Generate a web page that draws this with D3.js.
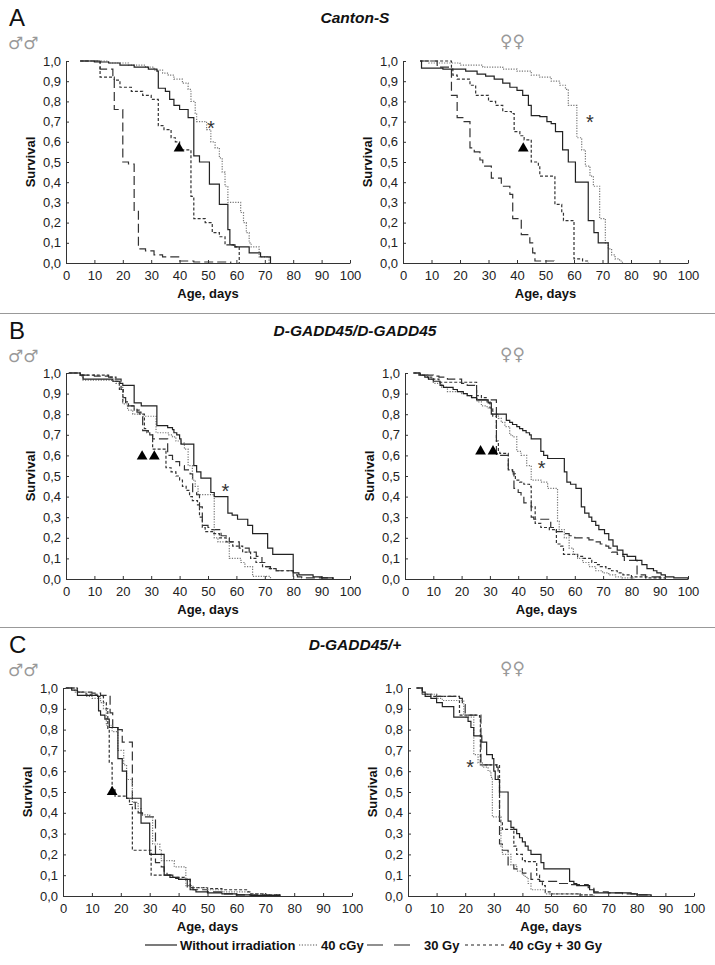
<!DOCTYPE html>
<html><head><meta charset="utf-8">
<script src="https://cdn.jsdelivr.net/npm/d3@7"></script>
<style>
body{margin:0;background:#fff;}
svg{display:block;font-family:"Liberation Sans",Arial,sans-serif;}
</style></head><body>
<svg id="c" width="715" height="965"></svg>
<script>
// ---------- DATA ----------
const seriesNames = ["Without irradiation", "40 cGy", "30 Gy", "40 cGy + 30 Gy"];
const xTicks = [0, 10, 20, 30, 40, 50, 60, 70, 80, 90, 100];
const yTicks = [0, 0.1, 0.2, 0.3, 0.4, 0.5, 0.6, 0.7, 0.8, 0.9, 1.0];
const groupTitles = ["Canton-S", "D-GADD45/D-GADD45", "D-GADD45/+"];
const groupLetters = ["A", "B", "C"];

// Each series: [age (days), survival fraction after that age]
const A_m_none = [[5,1],[10,0.995],[15,0.99],[19,0.98],[24,0.97],[29,0.96],[32,0.95],[32.5,0.865],[35,0.85],[36.5,0.81],[38,0.78],[40,0.76],[43,0.72],[45,0.53],[47,0.5],[50.5,0.39],[54,0.29],[57,0.165],[57.7,0.09],[59.5,0.08],[64.5,0.05],[68.5,0.03],[72,0]];
const A_m_40c = [[5,1],[15,0.99],[22,0.98],[28,0.97],[31,0.955],[34,0.94],[36,0.93],[38,0.91],[41,0.89],[43,0.86],[44,0.8],[45.5,0.74],[46,0.7],[49.5,0.66],[51,0.6],[52.5,0.57],[54,0.52],[55,0.45],[56,0.38],[57,0.3],[61.5,0.25],[62.5,0.2],[63.5,0.15],[64.5,0.1],[65.2,0.08],[68,0.03],[71.5,0]];
const A_m_30g = [[5,1],[12,0.96],[16.5,0.92],[17,0.76],[20,0.5],[22,0.49],[24,0.26],[25.5,0.07],[28,0.06],[31,0.04],[34,0.03],[40,0.01],[45,0.005],[58,0]];
const A_m_both = [[5,1],[12,0.92],[17,0.905],[19,0.87],[23,0.85],[27,0.83],[30,0.81],[32.5,0.68],[34.5,0.66],[37,0.62],[38.5,0.6],[40,0.56],[44,0.33],[45,0.22],[49,0.2],[51.5,0.15],[54,0.13],[56,0.09],[59,0.08],[61,0]];

const A_f_none = [[6,1],[6.5,0.965],[14,0.96],[22,0.95],[26,0.935],[29,0.925],[32,0.91],[35,0.89],[37.5,0.87],[40,0.855],[42,0.83],[44,0.78],[45,0.73],[48,0.725],[50.5,0.7],[52,0.69],[53.5,0.65],[56,0.56],[58,0.5],[60.5,0.4],[65,0.21],[67,0.15],[68.5,0.1],[72,0]];
const A_f_40c = [[6,1],[9,0.99],[20,0.98],[28,0.97],[35,0.96],[40,0.95],[45,0.93],[48,0.92],[52,0.9],[55,0.88],[57,0.86],[58,0.78],[61,0.62],[62.7,0.56],[64,0.48],[65.6,0.43],[66.8,0.38],[69,0.22],[71,0.1],[72,0.07],[73.2,0.04],[74.4,0.02],[76,0.01],[77,0]];
const A_f_30g = [[6,1],[12,0.97],[17,0.83],[19,0.72],[21,0.7],[23.5,0.57],[25,0.55],[27,0.51],[28,0.48],[31,0.42],[34.5,0.38],[37.5,0.34],[38.5,0.22],[41.5,0.14],[44.5,0.1],[45.5,0.05],[46.3,0.01],[53,0]];
const A_f_both = [[6,1],[17,0.96],[17.5,0.93],[19,0.91],[23.5,0.88],[25.5,0.83],[30,0.8],[32.5,0.78],[35,0.75],[38,0.74],[39,0.65],[41,0.63],[42.5,0.61],[45,0.5],[47.5,0.48],[48,0.43],[53.3,0.29],[55.7,0.25],[56.3,0.21],[60,0.02],[63,0.01],[65,0]];

const B_m_none = [[1,1],[5,0.99],[6,0.97],[16.5,0.96],[19,0.95],[20,0.94],[24,0.855],[26.5,0.84],[32,0.745],[35.8,0.735],[37.5,0.725],[38,0.71],[39,0.7],[40,0.68],[40.5,0.655],[45,0.55],[46,0.52],[47.5,0.49],[51,0.42],[52.2,0.4],[57,0.32],[58.5,0.31],[60.4,0.29],[64,0.26],[65.7,0.22],[71,0.15],[72.8,0.12],[80,0.03],[82,0.02],[87,0.01],[90,0.005],[94,0]];
const B_m_40c = [[1,1],[5,0.985],[6,0.965],[16,0.96],[17.6,0.95],[18.8,0.93],[20,0.85],[21.7,0.82],[23.5,0.8],[27,0.79],[31.7,0.71],[36,0.7],[37.5,0.69],[38.7,0.67],[40.5,0.66],[41.7,0.63],[43,0.55],[44.5,0.48],[45.5,0.45],[46.5,0.41],[52.2,0.2],[53.5,0.18],[57.5,0.1],[61.6,0.08],[63,0.06],[65.7,0.013],[72,0]];
const B_m_30g = [[1,1],[5,0.99],[10,0.985],[15,0.98],[17,0.97],[19.4,0.92],[20.2,0.88],[21,0.84],[24,0.83],[25,0.81],[26.4,0.8],[27,0.72],[29,0.7],[30.5,0.68],[35.8,0.6],[37.5,0.58],[38.7,0.57],[40,0.55],[41.7,0.53],[43.7,0.51],[44.6,0.42],[46,0.41],[47,0.35],[48,0.26],[50,0.25],[51,0.24],[54.6,0.21],[56.4,0.2],[57.5,0.18],[61,0.15],[64.5,0.13],[67,0.11],[69,0.08],[70.4,0.06],[72,0.05],[74,0.04],[80,0.02],[81.5,0.01],[83,0.005],[94,0]];
const B_m_both = [[1,1],[5,0.99],[15,0.98],[17.6,0.96],[18.8,0.92],[20,0.86],[22,0.84],[24,0.82],[25.8,0.8],[27.6,0.73],[28.5,0.71],[29.5,0.7],[30.5,0.63],[35.2,0.54],[37,0.52],[38.7,0.5],[40,0.48],[41,0.45],[42.3,0.43],[43.5,0.4],[44.5,0.38],[46.3,0.36],[47,0.3],[48,0.25],[49,0.23],[51.6,0.22],[54,0.2],[56.4,0.18],[58.7,0.16],[62.2,0.13],[65,0.1],[66.9,0.08],[69.2,0.06],[71.6,0.05],[74,0.04],[80,0]];

const B_f_none = [[3,1],[5.4,0.99],[7,0.98],[8.3,0.97],[10,0.96],[12.4,0.94],[13.6,0.93],[17,0.92],[18.5,0.91],[20.6,0.9],[22,0.89],[23.5,0.88],[25.3,0.87],[29.4,0.855],[30.5,0.8],[35.8,0.77],[37,0.76],[38,0.75],[39.5,0.74],[40.5,0.73],[41.6,0.72],[42.8,0.71],[44,0.7],[44.6,0.68],[48,0.62],[49,0.6],[50.4,0.585],[56.3,0.52],[57.2,0.47],[58.5,0.46],[60.4,0.44],[62.3,0.35],[63.5,0.32],[65,0.3],[66,0.28],[67.4,0.26],[68.5,0.24],[70.5,0.22],[72,0.19],[73.5,0.16],[75,0.14],[77,0.12],[78.5,0.11],[81.5,0.09],[83.7,0.07],[85.5,0.05],[87.8,0.04],[89,0.03],[90.5,0.02],[92,0.01],[95,0.005],[100,0]];
const B_f_40c = [[3,1],[5,0.99],[8,0.97],[10,0.95],[13,0.93],[15,0.91],[20,0.9],[22,0.89],[24,0.88],[25.5,0.86],[27,0.84],[29,0.83],[31,0.8],[33,0.78],[34,0.76],[35.3,0.74],[37,0.7],[38,0.69],[39.5,0.62],[41,0.6],[43,0.55],[44.6,0.48],[48,0.47],[50.4,0.44],[53.9,0.28],[54.5,0.24],[56.3,0.2],[58,0.15],[59.5,0.12],[61,0.1],[62.8,0.08],[65,0.06],[67.4,0.04],[69.8,0.03],[72,0.02],[74.4,0.01],[76.7,0.005],[81,0]];
const B_f_30g = [[3,1],[5,0.99],[10,0.985],[12,0.98],[15,0.97],[20,0.95],[22,0.94],[25.3,0.87],[32.3,0.6],[36.5,0.53],[38,0.52],[38.5,0.44],[40,0.42],[41,0.4],[42,0.37],[44.6,0.3],[45.5,0.29],[51.5,0.25],[53.5,0.23],[56,0.22],[58,0.21],[60,0.2],[65,0.19],[67,0.18],[69,0.17],[71,0.16],[72,0.15],[73,0.13],[75,0.12],[77,0.11],[77.5,0.09],[82,0.02],[85,0.01],[90,0]];
const B_f_both = [[3,1],[5,0.99],[8,0.98],[10,0.97],[12,0.955],[25.3,0.89],[27,0.88],[29,0.86],[30,0.83],[31,0.79],[32.3,0.67],[33,0.62],[33.5,0.61],[36.5,0.53],[38,0.51],[39,0.48],[40.5,0.47],[42,0.46],[44,0.45],[44.6,0.35],[46,0.27],[48,0.25],[51,0.24],[53.5,0.17],[55,0.16],[56,0.12],[61,0.11],[63,0.1],[66,0.08],[68,0.07],[69,0.06],[71,0.05],[73,0.04],[75,0.03],[77,0.02],[80,0.01],[85,0.005],[92,0]];

const C_m_none = [[1,1],[3,0.99],[5,0.965],[12,0.96],[12.3,0.89],[13,0.87],[14.5,0.85],[16,0.81],[19,0.66],[20.5,0.6],[22,0.47],[27,0.35],[30,0.2],[35,0.1],[37,0.09],[39,0.085],[40,0.08],[44,0.03],[46,0.02],[50,0.015],[55,0.01],[60,0.005],[65,0.003],[75,0]];
const C_m_40c = [[1,1],[4,0.98],[8,0.96],[10,0.95],[13,0.93],[14,0.9],[15,0.82],[17,0.79],[19,0.7],[21,0.63],[22,0.56],[24,0.45],[26,0.42],[27,0.39],[30,0.38],[31,0.25],[33.5,0.22],[34,0.17],[38.5,0.14],[42.5,0.05],[45,0.04],[50,0.03],[55,0.02],[65,0.01],[70,0.005],[75,0]];
const C_m_30g = [[1,1],[5,0.98],[10,0.975],[13,0.965],[16.3,0.88],[17.2,0.81],[19,0.8],[20.5,0.74],[24,0.45],[25,0.42],[26,0.4],[27.5,0.38],[32,0.16],[34,0.14],[35,0.12],[36,0.1],[38,0.09],[40,0.08],[43,0.04],[45,0.03],[50,0.02],[55,0.01],[60,0.005],[75,0]];
const C_m_both = [[1,1],[5,0.98],[8,0.97],[12,0.96],[14,0.93],[15,0.9],[15.5,0.8],[16,0.64],[17,0.51],[18,0.48],[22,0.47],[23,0.44],[24,0.22],[30.5,0.1],[38,0.09],[42,0.08],[44,0.04],[50,0.035],[55,0.03],[64,0.02],[65,0.01],[70,0.005],[75,0]];

const C_f_none = [[3,1],[5,0.98],[6,0.96],[8,0.95],[10,0.93],[12,0.91],[16,0.86],[21,0.84],[22,0.81],[23,0.77],[25.8,0.74],[27.5,0.68],[29.5,0.66],[30,0.6],[30.5,0.56],[32,0.5],[35,0.36],[36,0.33],[37,0.32],[38,0.3],[39,0.28],[40,0.26],[41,0.24],[42,0.22],[43,0.2],[46.5,0.16],[47.5,0.13],[56.5,0.07],[58,0.06],[59,0.05],[63.5,0.03],[65,0.015],[78,0.01],[80,0.005],[85,0]];
const C_f_40c = [[3,1],[5,0.97],[10,0.95],[12,0.94],[19.5,0.87],[20,0.86],[23,0.68],[24.5,0.64],[26,0.62],[28,0.6],[29,0.57],[29.5,0.38],[32.5,0.24],[33,0.2],[36,0.15],[38,0.12],[40,0.1],[41,0.09],[42,0.06],[43,0.03],[48,0.01],[60,0.005],[65,0]];
const C_f_30g = [[3,1],[5,0.97],[10,0.96],[18,0.95],[19,0.92],[20,0.87],[25.5,0.63],[31,0.62],[31.5,0.56],[32,0.25],[33,0.22],[35,0.15],[37,0.13],[40,0.11],[43,0.08],[46,0.07],[53,0.06],[57,0.055],[63,0.04],[65,0.02],[70,0.015],[75,0.01],[80,0.005],[85,0]];
const C_f_both = [[3,1],[5,0.97],[8,0.96],[18,0.87],[25,0.86],[25.3,0.63],[32,0.36],[33,0.32],[37,0.24],[38,0.2],[40,0.17],[41,0.165],[45,0.1],[46,0.07],[47,0.05],[48,0.02],[50,0.01],[60,0.005],[65,0]];

// annotations: [age, survival]
const A_m_tri = [[39.8,0.567]], A_m_ast = [[51,0.69]];
const A_f_tri = [[42.2,0.567]], A_f_ast = [[65.6,0.72]];
const B_m_tri = [[26.8,0.595],[31.1,0.595]], B_m_ast = [[56.1,0.45]];
const B_f_tri = [[26.7,0.62],[31.1,0.62]], B_f_ast = [[48.3,0.563]];
const C_m_tri = [[17,0.5]], C_m_ast = [];
const C_f_tri = [], C_f_ast = [[21.7,0.64]];

// ---------- LAYOUT / STYLE ----------
const styles = [
  {stroke:"#222", dash:null, w:1.2},
  {stroke:"#777", dash:"1.2,1.4", w:1.2},
  {stroke:"#333", dash:"9,4", w:1.2},
  {stroke:"#333", dash:"3,2", w:1.2}
];
const panels = [
  {series:[A_m_none,A_m_40c,A_m_30g,A_m_both], tri:A_m_tri, ast:A_m_ast, x0:66, x1:350, yb:263, yt:61},
  {series:[A_f_none,A_f_40c,A_f_30g,A_f_both], tri:A_f_tri, ast:A_f_ast, x0:403, x1:688, yb:263, yt:61},
  {series:[B_m_none,B_m_40c,B_m_30g,B_m_both], tri:B_m_tri, ast:B_m_ast, x0:66, x1:350, yb:579, yt:373},
  {series:[B_f_none,B_f_40c,B_f_30g,B_f_both], tri:B_f_tri, ast:B_f_ast, x0:405, x1:688, yb:579, yt:373},
  {series:[C_m_none,C_m_40c,C_m_30g,C_m_both], tri:C_m_tri, ast:C_m_ast, x0:63, x1:352, yb:896, yt:688},
  {series:[C_f_none,C_f_40c,C_f_30g,C_f_both], tri:C_f_tri, ast:C_f_ast, x0:408, x1:694, yb:896, yt:688}
];
const groupTop = [0, 313, 627];

const svg = d3.select("#c");
const fmt = d => d.toFixed(1).replace(".", ",");

// separators
[313, 627].forEach(y => svg.append("line").attr("x1",0).attr("x2",715).attr("y1",y+0.5).attr("y2",y+0.5)
  .attr("stroke","#999").attr("stroke-width",1));

// group headers
groupTop.forEach((t, i) => {
  svg.append("text").attr("x", 9).attr("y", t + 26).attr("font-size", 24).attr("fill","#111").text(groupLetters[i]);
  svg.append("text").attr("x", 355).attr("y", t + 23).attr("text-anchor","middle")
    .attr("font-size", 15.5).attr("font-weight","bold").attr("font-style","italic").attr("fill","#111").text(groupTitles[i]);
  svg.append("text").attr("x", 8).attr("y", t + 49).attr("font-size", 17)
    .attr("font-family","DejaVu Sans").attr("fill","#999").text("\u2642\u2642");
  svg.append("text").attr("x", 500).attr("y", t + 47).attr("font-size", 17)
    .attr("font-family","DejaVu Sans").attr("fill","#999").text("\u2640\u2640");
});

panels.forEach(p => {
  const x = d3.scaleLinear().domain([0,100]).range([p.x0, p.x1]);
  const y = d3.scaleLinear().domain([0,1]).range([p.yb, p.yt]);
  const g = svg.append("g");

  const xa = g.append("g").attr("transform",`translate(0,${p.yb})`)
    .call(d3.axisBottom(x).tickValues(xTicks).tickSizeInner(-3).tickSizeOuter(0).tickPadding(8).tickFormat(d3.format("d")));
  const ya = g.append("g").attr("transform",`translate(${p.x0},0)`)
    .call(d3.axisLeft(y).tickValues(yTicks).tickSizeInner(-3).tickSizeOuter(0).tickPadding(5).tickFormat(fmt));
  [xa, ya].forEach(a => {
    a.selectAll("text").attr("font-size", 13).attr("fill","#222").attr("font-family","Liberation Sans, Arial, sans-serif");
    a.selectAll("path,line").attr("stroke","#333");
  });

  g.append("text").attr("x", (p.x0+p.x1)/2).attr("y", p.yb + 35).attr("text-anchor","middle")
    .attr("font-size", 13).attr("font-weight","bold").attr("fill","#111").text("Age, days");
  g.append("text").attr("transform", `translate(${p.x0 - 31},${(p.yb+p.yt)/2}) rotate(-90)`)
    .attr("text-anchor","middle").attr("font-size", 13).attr("font-weight","bold").attr("fill","#111").text("Survival");

  const line = d3.line().x(d => x(d[0])).y(d => y(d[1])).curve(d3.curveStepAfter);
  [2,3,1,0].forEach(k => {
    g.append("path").datum(p.series[k]).attr("d", line).attr("fill","none")
      .attr("stroke", styles[k].stroke).attr("stroke-width", styles[k].w)
      .attr("stroke-dasharray", styles[k].dash);
  });

  g.selectAll(".tri").data(p.tri).join("path")
    .attr("transform", d => `translate(${x(d[0])},${y(d[1])})`)
    .attr("d", d3.symbol(d3.symbolTriangle, 50)).attr("fill","#000");
  g.selectAll(".ast").data(p.ast).join("text")
    .attr("x", d => x(d[0])).attr("y", d => y(d[1]) + 11.5).attr("text-anchor","middle")
    .attr("font-family","Liberation Sans, Arial, sans-serif")
    .attr("font-size", 20).attr("fill","#333").text("*");
});

// legend
const legY = 945;
const legend = [
  {x1:145, x2:177, tx:180},
  {x1:299, x2:318, tx:321},
  {x1:367, x2:410, tx:424},
  {x1:465, x2:506, tx:509}
];
const legDash = [null, "1.2,1.6", "16,11", "3,3"];
legend.forEach((l, i) => {
  svg.append("line").attr("x1", l.x1).attr("x2", l.x2).attr("y1", legY).attr("y2", legY)
    .attr("stroke", i === 1 ? "#555" : "#222").attr("stroke-width", 1.2).attr("stroke-dasharray", legDash[i]);
  svg.append("text").attr("x", l.tx).attr("y", legY + 4.5).attr("font-size", 13).attr("font-weight","bold")
    .attr("fill","#111").text(seriesNames[i]);
});
</script>
</body></html>
